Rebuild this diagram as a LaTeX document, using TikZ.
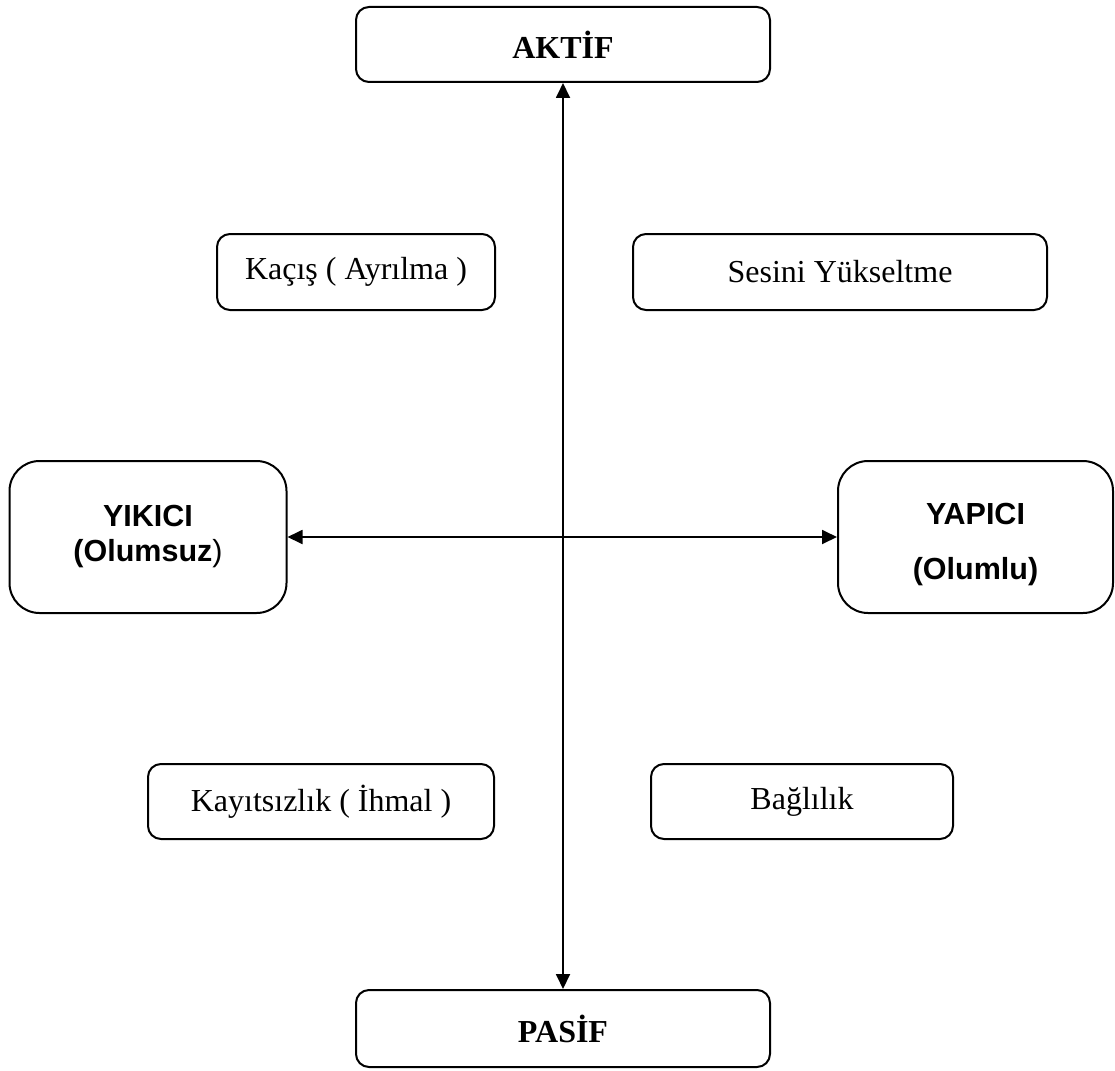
\documentclass[tikz,border=0pt]{standalone}
\usepackage{fontspec}
\setmainfont{Liberation Serif}
\newfontfamily\arialfont{Liberation Sans}
\usetikzlibrary{arrows.meta}

\tikzset{
  box/.style={draw, line width=2pt, rounded corners=13pt, inner sep=0pt,
              align=center, font=\fontsize{32}{38}\selectfont},
  polebox/.style={box, font=\fontsize{32}{38}\selectfont\bfseries},
  sidebox/.style={box, rounded corners=30pt, minimum width=277pt, minimum height=152pt,
                  font=\arialfont\bfseries\fontsize{30.5}{35}\selectfont},
  axis/.style={line width=1.8pt, {Triangle[length=15pt,width=14pt]}-{Triangle[length=15pt,width=14pt]}}
}

\begin{document}
\begin{tikzpicture}[x=1pt, y=-1pt]
  \useasboundingbox (0,0) rectangle (1115,1070);

  % vertical poles
  \node[polebox, minimum width=414pt, minimum height=75pt] (akt) at (563,44.5) {AKTİF};
  \node[polebox, minimum width=414pt, minimum height=77pt] (pas) at (563,1028.5) {PASİF};

  % horizontal poles
  \node[sidebox] (yik) at (148,537) {YIKICI\\(Olumsuz{\mdseries)}};
  \node[sidebox, minimum width=275pt] (yap) at (975.5,537) {\rule{0pt}{36pt}YAPICI\\[20pt](Olumlu)};

  % quadrant responses
  \node[box, minimum width=278pt, minimum height=76pt] (kac) at (356,272) {Kaçış ( Ayrılma )};
  \node[box, minimum width=414pt, minimum height=76pt] (ses) at (840,272) {Sesini Yükseltme};
  \node[box, minimum width=346pt, minimum height=75pt] (kay) at (321,801.5) {Kayıtsızlık ( İhmal )};
  \node[box, minimum width=302pt, minimum height=75pt] (bag) at (802,801.5) {Bağlılık};

  % axes
  \draw[axis] (akt.south) -- (pas.north);
  \draw[axis] (yik.east) -- (yap.west);
\end{tikzpicture}
\end{document}
